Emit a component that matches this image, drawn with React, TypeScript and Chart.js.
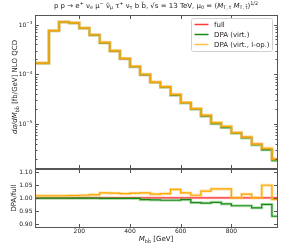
import React, { useEffect, useRef } from "react";
import { Chart, registerables } from "chart.js";
Chart.register(...registerables);

// ---------------- data ----------------
const binEdges = [0, 40, 80, 120, 160, 200, 240, 280, 320, 360, 400, 440, 480, 520, 560, 600, 640, 680, 720, 760, 800, 840, 880, 920, 960, 1000];
const fullXsec = [1.66e-4, 7.5e-4, 1.12e-3, 1.07e-3, 8.4e-4, 6.15e-4, 4.3e-4, 2.93e-4, 2.05e-4, 1.42e-4, 9.8e-5, 6.87e-5, 5.52e-5, 3.82e-5, 2.66e-5, 2.02e-5, 1.46e-5, 1.03e-5, 8.67e-6, 6.67e-6, 5.38e-6, 3.94e-6, 3.09e-6, 1.97e-6, 2.26e-6];
const ratioVirt = [0.999, 0.999, 0.999, 0.999, 0.999, 0.999, 0.998, 0.998, 0.998, 0.998, 0.993, 0.992, 0.991, 0.991, 0.993, 0.982, 0.980, 0.983, 0.977, 0.970, 0.970, 0.962, 0.975, 0.930, 0.985];
const ratioVirtLop = [1.008, 1.008, 1.008, 1.009, 1.010, 1.012, 1.019, 1.018, 1.016, 1.018, 1.019, 1.014, 1.016, 1.032, 1.019, 1.010, 1.026, 1.034, 1.034, 1.000, 1.014, 1.000, 1.048, 0.994, 1.030];
const seriesLabels = ["full", "DPA (virt.)", "DPA (virt., l-op.)"];
const xTickValues = [200, 400, 600, 800];
const ratioTickValues = [0.9, 0.95, 1.0, 1.05, 1.1];
const ratioTickLabels = ["0.90", "0.95", "1.00", "1.05", "1.10"];
const logMajorExps = [-5, -4, -3];

// ---------------- style ----------------
const XMIN = 25, XMAX = 980;
const MAIN_YMIN = 1.33e-6, MAIN_YMAX = 1.59e-3;
const RATIO_YMIN = 0.889, RATIO_YMAX = 1.11;
const W = 288, H = 252;
const AREA_LEFT = 35, AREA_RIGHT = 277;
const MAIN_TOP = 14.5, MAIN_BOTTOM = 167.5;
const RATIO_TOP = 169, RATIO_BOTTOM = 227;
const RED = "rgba(255,20,20,0.85)";
const GREEN = "#138a13";
const ORANGE = "#ffa500";
const SPINE = "#555555";
const TEXT = "#222222";
const FONT = '"DejaVu Sans"';

type Seg = { t: string; s?: "sub" | "sup"; i?: boolean };

function segFont(seg: Seg, size: number) {
  const sz = seg.s ? size * 0.7 : size;
  return `${seg.i ? "italic " : ""}${sz}px ${FONT}`;
}
function drawRich(ctx: CanvasRenderingContext2D, segs: Seg[], x: number, y: number, size: number, align: "left" | "center" | "right") {
  let w = 0;
  for (const s of segs) { ctx.font = segFont(s, size); w += ctx.measureText(s.t).width; }
  let cx = align === "center" ? x - w / 2 : align === "right" ? x - w : x;
  ctx.textAlign = "left";
  ctx.textBaseline = "middle";
  for (const s of segs) {
    ctx.font = segFont(s, size);
    const dy = s.s === "sub" ? size * 0.28 : s.s === "sup" ? -size * 0.38 : 0;
    ctx.fillText(s.t, cx, y + dy);
    cx += ctx.measureText(s.t).width;
  }
}

const titleSegs: Seg[] = [
  { t: "p p → e" }, { t: "+", s: "sup" }, { t: " ν" }, { t: "e", s: "sub" }, { t: " μ" }, { t: "−", s: "sup" },
  { t: " ν\u0304" }, { t: "μ", s: "sub" }, { t: " τ" }, { t: "+", s: "sup" }, { t: " ν" }, { t: "τ", s: "sub" },
  { t: " b b\u0304, √s = 13 TeV, μ" }, { t: "0", s: "sub" }, { t: " = (" }, { t: "M", i: true }, { t: "T, t", s: "sub" },
  { t: " " }, { t: "M", i: true }, { t: "T, t\u0304", s: "sub" }, { t: ")" }, { t: "1/2", s: "sup" },
];
const yLabelSegs: Seg[] = [{ t: "dσ/d", i: true }, { t: "M", i: true }, { t: "bb\u0304", s: "sub" }, { t: " [fb/GeV] NLO QCD" }];
const xLabelSegs: Seg[] = [{ t: "M", i: true }, { t: "bb\u0304", s: "sub" }, { t: " [GeV]" }];
const ratioLabelSegs: Seg[] = [{ t: "DPA/full" }];

function steps(values: number[]) {
  // value of bin i sits between edge i and edge i+1 ('before' = horizontal first, then vertical)
  return binEdges.map((e, i) => ({ x: e, y: values[Math.max(0, i - 1)] }));
}

function lineDs(label: string, values: number[], color: string, width: number, order: number) {
  return { label, data: steps(values), borderColor: color, borderWidth: width, stepped: "before" as const, pointRadius: 0, fill: false, order, clip: 0 };
}

function makeDatasets(full: number[], virt: number[], lop: number[]) {
  return [
    lineDs("full-band", full, "rgba(255,80,80,0.25)", 3, 6),
    lineDs(seriesLabels[0], full, RED, 1.3, 5),
    lineDs("virt-band", virt, "rgba(60,170,60,0.35)", 3, 4),
    lineDs(seriesLabels[1], virt, GREEN, 1.2, 3),
    lineDs("lop-band", lop, "rgba(255,200,90,0.55)", 3, 2),
    lineDs(seriesLabels[2], lop, ORANGE, 1.2, 1),
  ];
}

function crisp(v: number) { return Math.round(v) + 0.5; }

function framePlugin(kind: "main" | "ratio") {
  return {
    id: "frame-" + kind,
    afterDatasetsDraw(chart: any) {
      const { ctx, chartArea: a, scales } = chart;
      const xs = scales.x, ys = scales.y;
      ctx.save();
      ctx.strokeStyle = SPINE;
      ctx.lineWidth = 1;
      const L = crisp(a.left), R = crisp(a.right), T = crisp(a.top), B = crisp(a.bottom);
      ctx.strokeRect(L, T, R - L, B - T);
      for (const v of xTickValues) {
        const px = crisp(xs.getPixelForValue(v));
        ctx.beginPath();
        ctx.moveTo(px, B); ctx.lineTo(px, B - 3.5);
        ctx.moveTo(px, T); ctx.lineTo(px, T + 3.5);
        ctx.stroke();
      }
      ctx.fillStyle = TEXT;
      if (kind === "main") {
        for (let e = -6; e <= -3; e++) {
          for (let k = 1; k <= 9; k++) {
            const v = k * Math.pow(10, e);
            if (v < MAIN_YMIN || v > MAIN_YMAX) continue;
            const py = crisp(ys.getPixelForValue(v));
            const len = k === 1 ? 3.5 : 2;
            ctx.beginPath();
            ctx.moveTo(L, py); ctx.lineTo(L + len, py);
            ctx.moveTo(R, py); ctx.lineTo(R - len, py);
            ctx.stroke();
          }
        }
        for (const e of logMajorExps) {
          const py = ys.getPixelForValue(Math.pow(10, e));
          drawRich(ctx, [{ t: "10" }, { t: "−" + Math.abs(e), s: "sup" }], a.left - 2.5, py + 0.5, 6, "right");
        }
        drawRich(ctx, titleSegs, (a.left + a.right) / 2, 6, 7, "center");
        ctx.save();
        ctx.translate(15.5, (a.top + a.bottom) / 2 - 4);
        ctx.rotate(-Math.PI / 2);
        drawRich(ctx, yLabelSegs, 0, 0, 7, "center");
        ctx.restore();
        const lx = 191.5, ly = 18.5, lw = 81, lh = 33;
        ctx.beginPath();
        ctx.roundRect(lx, ly, lw, lh, 2);
        ctx.fillStyle = "rgba(255,255,255,0.85)";
        ctx.fill();
        ctx.strokeStyle = "#d0d0d0";
        ctx.stroke();
        const colors = [RED, GREEN, "rgba(255,180,40,0.85)"];
        seriesLabels.forEach((lab, i) => {
          const yy = 24.5 + i * 10;
          ctx.strokeStyle = colors[i];
          ctx.lineWidth = 1.5;
          ctx.beginPath(); ctx.moveTo(194.5, yy); ctx.lineTo(208.5, yy); ctx.stroke();
          ctx.fillStyle = TEXT;
          drawRich(ctx, [{ t: lab }], 214, yy + 0.5, 7, "left");
        });
      } else {
        ratioTickValues.forEach((v, i) => {
          const py = crisp(ys.getPixelForValue(v));
          ctx.beginPath();
          ctx.moveTo(L, py); ctx.lineTo(L + 3.5, py);
          ctx.moveTo(R, py); ctx.lineTo(R - 3.5, py);
          ctx.stroke();
          drawRich(ctx, [{ t: ratioTickLabels[i] }], a.left - 2.5, py, 6, "right");
        });
        xTickValues.forEach((v) => {
          drawRich(ctx, [{ t: String(v) }], xs.getPixelForValue(v), a.bottom + 4, 6, "center");
        });
        drawRich(ctx, xLabelSegs, (a.left + a.right) / 2, a.bottom + 12.5, 7, "center");
        ctx.save();
        ctx.translate(14, (a.top + a.bottom) / 2);
        ctx.rotate(-Math.PI / 2);
        drawRich(ctx, ratioLabelSegs, 0, 0, 7, "center");
        ctx.restore();
      }
      ctx.restore();
    },
  };
}

function baseOptions(yScale: any, top: number, bottom: number) {
  return {
    animation: false as const,
    responsive: false,
    maintainAspectRatio: false,
    events: [] as any[],
    layout: { padding: { left: AREA_LEFT, right: W - AREA_RIGHT, top, bottom: H - bottom } },
    scales: {
      x: { type: "linear" as const, display: false, min: XMIN, max: XMAX },
      y: { ...yScale, display: false },
    },
    plugins: { legend: { display: false }, tooltip: { enabled: false }, title: { display: false } },
  };
}

export default function App() {
  const mainRef = useRef<HTMLCanvasElement>(null);
  const ratioRef = useRef<HTMLCanvasElement>(null);
  useEffect(() => {
    const dpaVirt = fullXsec.map((v, i) => v * ratioVirt[i]);
    const dpaLop = fullXsec.map((v, i) => v * ratioVirtLop[i]);
    const ones = fullXsec.map((v) => v / v);
    const main = new Chart(mainRef.current!, {
      type: "line",
      data: { datasets: makeDatasets(fullXsec, dpaVirt, dpaLop) as any },
      options: baseOptions({ type: "logarithmic", min: MAIN_YMIN, max: MAIN_YMAX }, MAIN_TOP, MAIN_BOTTOM) as any,
      plugins: [framePlugin("main")],
    });
    const ratio = new Chart(ratioRef.current!, {
      type: "line",
      data: { datasets: makeDatasets(ones, ratioVirt, ratioVirtLop) as any },
      options: baseOptions({ type: "linear", min: RATIO_YMIN, max: RATIO_YMAX }, RATIO_TOP, RATIO_BOTTOM) as any,
      plugins: [framePlugin("ratio")],
    });
    return () => { main.destroy(); ratio.destroy(); };
  }, []);
  const cs: React.CSSProperties = { position: "absolute", left: 0, top: 0, width: W, height: H };
  return (
    <div style={{ position: "absolute", left: 0, top: 0, width: W, height: H, background: "#fff" }}>
      <canvas ref={mainRef} width={W} height={H} style={cs} />
      <canvas ref={ratioRef} width={W} height={H} style={cs} />
    </div>
  );
}
